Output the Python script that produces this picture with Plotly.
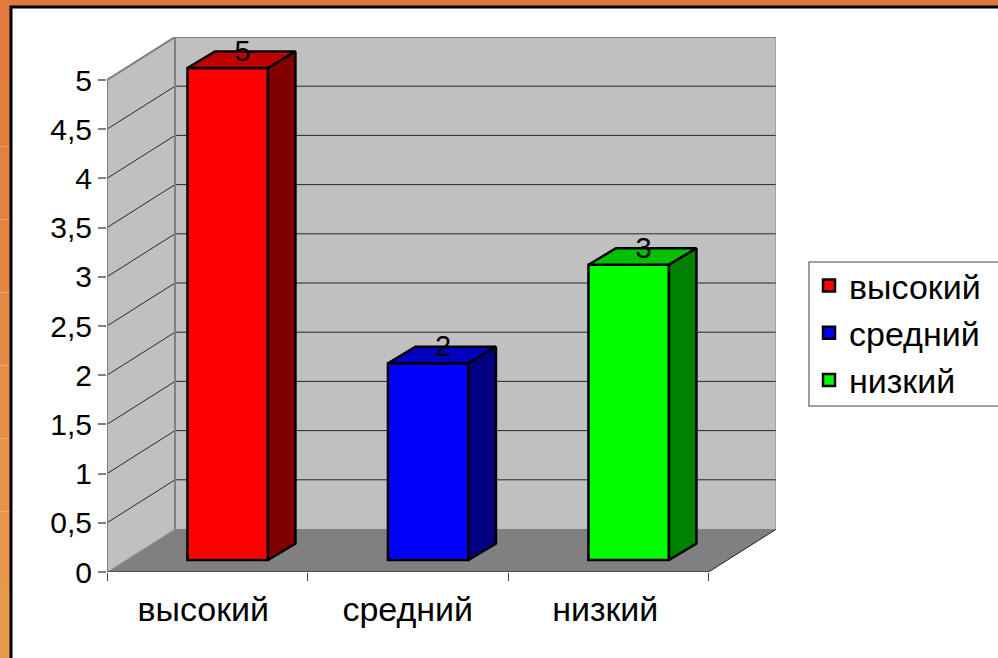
import plotly.graph_objects as go

categories = ["высокий", "средний", "низкий"]
values = [5, 2, 3]
front_colors = ["#FF0000", "#0000FF", "#00FF00"]
top_colors = ["#C00000", "#0000C0", "#00C000"]
side_colors = ["#800000", "#000080", "#008000"]
y_ticks = [0, 0.5, 1, 1.5, 2, 2.5, 3, 3.5, 4, 4.5, 5]
band_colors = ["#E07A3E", "#E17E40", "#E28242", "#E38644", "#E48A46", "#E58E48", "#E6924A", "#E7964C", "#E89A4E"]
label_positions = [0.48, 1.5, 2.485]

W, H = 998, 658
X0, Y0 = 107, 572
UX, UY = 200.5, 98.4
XMAX = (776 - X0) / UX
YMAX = (Y0 - 37) / UY
WALL_DX, WALL_DY = 68 / UX, 43 / UY
BAR_DX, BAR_DY = 27.5 / UX, 16.5 / UY
BAR_W = 80.5 / UX
BAR_SHIFT, BAR_BASE = 0.602, 12 / UY
FONT = "Liberation Sans"
GREY = "#808080"

shapes = []
# orange frame
n = len(band_colors)
for i, c in enumerate(band_colors):
    shapes.append(dict(type="rect", xref="paper", yref="paper", x0=0, x1=1,
                       y0=1 - (i + 1) / n, y1=1 - i / n, fillcolor=c, line_width=0, layer="below"))
shapes.append(dict(type="rect", xref="paper", yref="paper", x0=11 / W, x1=1.01,
                   y0=-0.01, y1=1 - 7 / H, fillcolor="white",
                   line=dict(color="black", width=3), layer="below"))
# legend box
shapes.append(dict(type="rect", xref="paper", yref="paper", x0=809 / W, x1=1.01,
                   y0=1 - 406 / H, y1=1 - 262 / H, fillcolor="white",
                   line=dict(color=GREY, width=1.5), layer="below"))

def poly(points, fill, line=None):
    path = "M" + "L".join(f"{a},{b}" for a, b in points) + "Z"
    return dict(type="path", xref="x", yref="y", path=path, fillcolor=fill,
                line=line or dict(width=0), layer="below")

r = len(categories)
# walls and floor
shapes.append(poly([(0, 0), (WALL_DX, WALL_DY), (WALL_DX, YMAX), (0, 5)], "#C0C0C0"))
shapes.append(poly([(WALL_DX, WALL_DY), (r + WALL_DX, WALL_DY), (r + WALL_DX, YMAX), (WALL_DX, YMAX)], "#C0C0C0"))
shapes.append(poly([(0, 0), (r, 0), (r + WALL_DX, WALL_DY), (WALL_DX, WALL_DY)], GREY))
# gridlines
for t in y_ticks[1:]:
    for (a, b, c, d) in [(0, t, WALL_DX, t + WALL_DY), (WALL_DX, t + WALL_DY, r + WALL_DX, t + WALL_DY)]:
        shapes.append(dict(type="line", xref="x", yref="y", x0=a, y0=b, x1=c, y1=d,
                           line=dict(color="black", width=0.8), layer="below"))
# wall edges
for (a, b, c, d, col, w) in [
    (0, 0, 0, 5, GREY, 2),
    (0, 5, WALL_DX, YMAX, GREY, 2),
    (WALL_DX, YMAX, r + WALL_DX, YMAX, GREY, 2),
    (WALL_DX, WALL_DY, WALL_DX, YMAX, GREY, 2),
    (r + WALL_DX, WALL_DY, r + WALL_DX, YMAX, GREY, 2),
    (0, 0, WALL_DX, WALL_DY, "#A0A0A0", 1),
    (0, 0, r, 0, "#404040", 1.5),
    (r, 0, r + WALL_DX, WALL_DY, "#202020", 1),
]:
    shapes.append(dict(type="line", xref="x", yref="y", x0=a, y0=b, x1=c, y1=d,
                       line=dict(color=col, width=w), layer="below"))

fig = go.Figure()
centers = [i + BAR_SHIFT for i in range(r)]
for i, cat in enumerate(categories):
    fig.add_trace(go.Bar(x=[centers[i]], y=[values[i]], base=BAR_BASE, width=BAR_W, name=cat,
                         legendgroup=cat, marker=dict(color=front_colors[i], line=dict(color="black", width=2.5)),
                         hoverinfo="skip"))
for i in range(r):
    xl, xr = centers[i] - BAR_W / 2, centers[i] + BAR_W / 2
    yb, yt = BAR_BASE, BAR_BASE + values[i]
    fig.add_trace(go.Scatter(x=[xl, xr, xr + BAR_DX, xl + BAR_DX, xl],
                             y=[yt, yt, yt + BAR_DY, yt + BAR_DY, yt], mode="lines", fill="toself",
                             fillcolor=top_colors[i], line=dict(color="black", width=2.5),
                             showlegend=False, hoverinfo="skip"))
    fig.add_trace(go.Scatter(x=[xr, xr + BAR_DX, xr + BAR_DX, xr, xr],
                             y=[yb, yb + BAR_DY, yt + BAR_DY, yt, yb], mode="lines", fill="toself",
                             fillcolor=side_colors[i], line=dict(color="black", width=2.5),
                             showlegend=False, hoverinfo="skip"))
fig.add_trace(go.Scatter(x=[c + BAR_DX / 2 + 0.005 for c in centers],
                         y=[v + BAR_BASE + BAR_DY - 0.02 for v in values],
                         text=[str(v) for v in values], mode="text", textposition="middle center",
                         textfont=dict(family=FONT, size=29, color="black"),
                         showlegend=False, hoverinfo="skip", cliponaxis=False))

fig.update_layout(
    width=W, height=H, margin=dict(l=0, r=0, t=0, b=0, autoexpand=False), autosize=False,
    paper_bgcolor="white", plot_bgcolor="rgba(0,0,0,0)", shapes=shapes,
    separators=", ", barmode="overlay", showlegend=True,
    xaxis=dict(domain=[X0 / W, 776 / W], range=[0, XMAX], showgrid=False, zeroline=False, showline=False,
               automargin=False,
               tickmode="array", tickvals=label_positions, ticktext=categories,
               ticks="outside", ticklen=7, tickcolor="rgba(0,0,0,0)",
               tickfont=dict(family=FONT, size=34, color="black"),
               minor=dict(tickmode="array", tickvals=list(range(r + 1)), ticks="outside", ticklen=8,
                          tickcolor="#404040", tickwidth=1, showgrid=False)),
    yaxis=dict(domain=[1 - Y0 / H, 1 - 37 / H], range=[0, YMAX], showgrid=False, zeroline=False, showline=False,
               automargin=False,
               tickmode="array", tickvals=y_ticks, ticktext=[str(t).replace(".", ",") if t % 1 else str(int(t)) for t in y_ticks],
               ticks="outside", ticklen=8, tickcolor=GREY, tickwidth=1.5,
               tickfont=dict(family=FONT, size=30, color="black")),
    legend=dict(x=809 / W, y=1 - 257 / H, xanchor="left", yanchor="top", bgcolor="rgba(0,0,0,0)",
                borderwidth=0, traceorder="grouped", tracegroupgap=0,
                font=dict(family=FONT, size=34, color="black")),
)
fig.write_html("out.html", post_script="document.body.style.margin='0';", config={"displayModeBar": False})
